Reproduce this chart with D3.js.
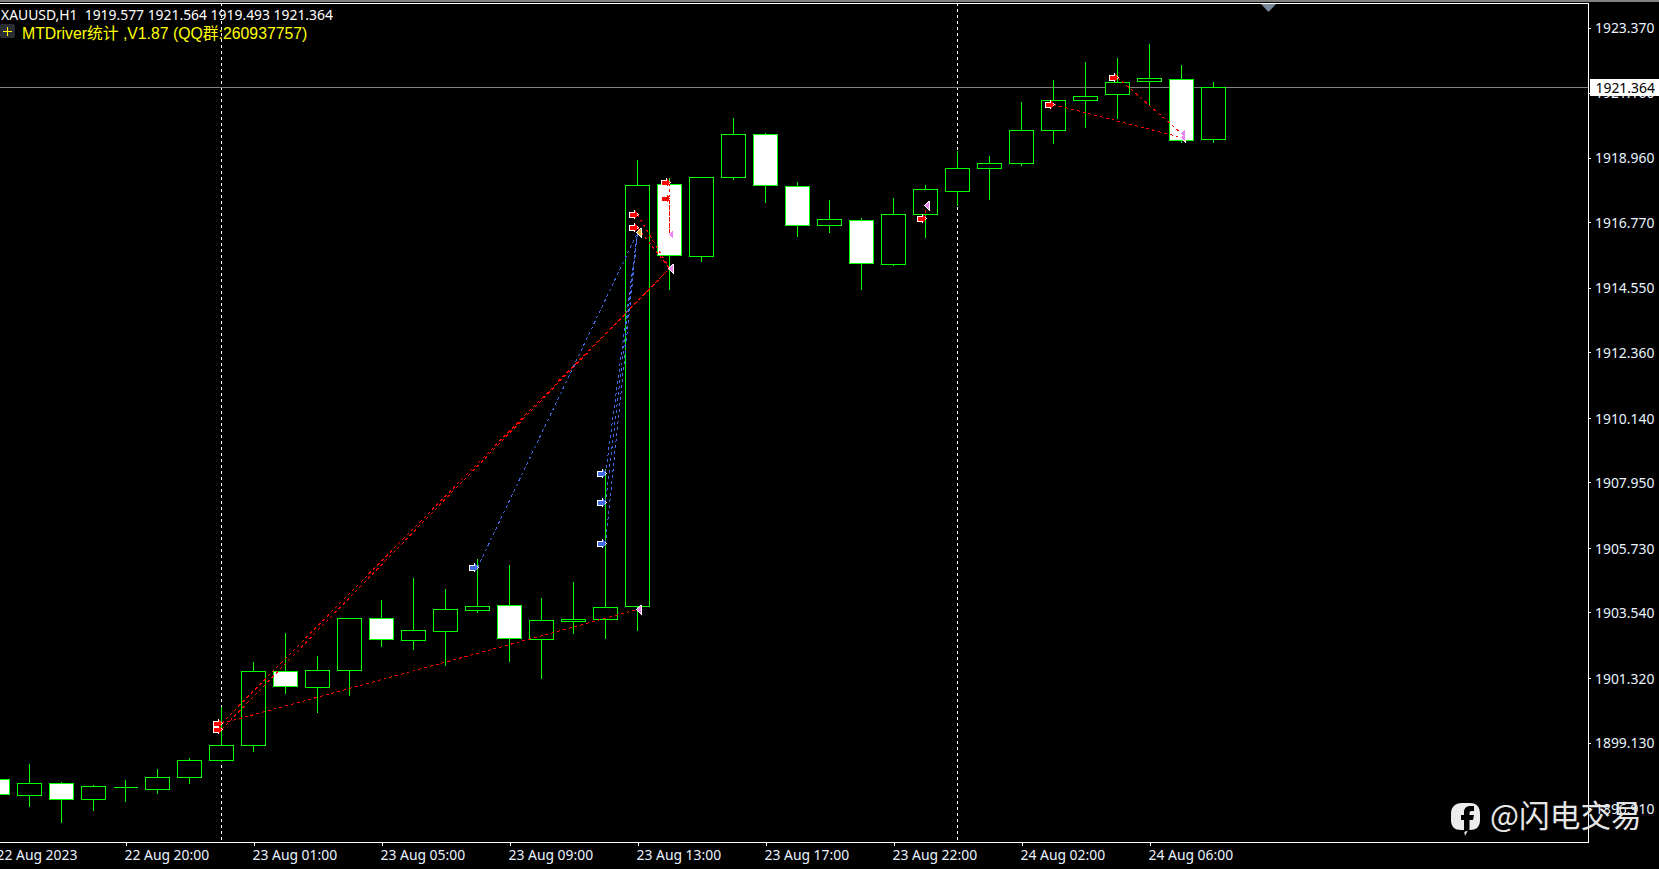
<!DOCTYPE html>
<html><head><meta charset="utf-8">
<script src="https://cdn.jsdelivr.net/npm/d3@7"></script>
<style>html,body{margin:0;padding:0;background:#000;overflow:hidden}svg{display:block}text{font-family:"Noto Sans",sans-serif}</style>
</head><body><svg id="c" width="1659" height="869"></svg>
<script>
const symbolLine = "XAUUSD,H1  1919.577 1921.564 1919.493 1921.364";
const indicatorLine = "MTDriver统计 ,V1.87 (QQ群:260937757)";
const watermark = "@闪电交易";
const highs = [1897.88,1898.42,1897.81,1897.71,1897.88,1898.25,1898.62,1900.35,1901.88,1902.86,1902.08,1903.37,1903.98,1904.73,1904.35,1905.37,1905.17,1904.05,1904.59,1908.42,1918.92,1918.29,1918.29,1920.33,1919.81,1918.15,1917.54,1916.93,1917.61,1918.05,1919.23,1919.06,1920.86,1921.61,1922.22,1922.35,1922.83,1922.12,1921.564];
const lows = [1897.37,1896.96,1896.42,1896.83,1897.13,1897.40,1897.74,1898.49,1898.83,1900.79,1900.15,1900.73,1902.39,1902.29,1901.74,1903.54,1901.88,1901.30,1902.83,1902.66,1902.93,1914.49,1915.44,1918.22,1917.44,1916.29,1916.42,1914.49,1915.30,1916.25,1917.34,1917.54,1918.69,1919.44,1920.01,1920.29,1920.73,1919.47,1919.493];
const opens = [1897.88,1897.34,1897.74,1897.20,1897.61,1897.54,1897.95,1898.52,1899.03,1901.54,1901.00,1901.57,1903.34,1902.59,1902.90,1903.61,1903.78,1902.62,1903.23,1903.30,1903.74,1918.05,1915.61,1918.29,1919.74,1917.98,1916.66,1916.83,1915.34,1917.03,1917.84,1918.59,1918.76,1919.88,1920.90,1921.10,1921.54,1921.61,1919.577];
const closes = [1897.37,1897.74,1897.20,1897.64,1897.61,1897.95,1898.52,1899.03,1901.54,1901.03,1901.57,1903.34,1902.62,1902.93,1903.64,1903.74,1902.66,1903.27,1903.30,1903.71,1918.03,1915.64,1918.29,1919.74,1918.03,1916.66,1916.86,1915.37,1917.03,1917.88,1918.59,1918.76,1919.88,1920.90,1921.06,1921.51,1921.64,1919.54,1921.364];
const priceTicks = [1923.370,1921.160,1918.960,1916.770,1914.550,1912.360,1910.140,1907.950,1905.730,1903.540,1901.320,1899.130,1896.910];
const timeTickBars = [0,4,8,12,16,20,24,28,32,36];
const timeTickLabels = ["22 Aug 2023","22 Aug 20:00","23 Aug 01:00","23 Aug 05:00","23 Aug 09:00","23 Aug 13:00","23 Aug 17:00","23 Aug 22:00","24 Aug 02:00","24 Aug 06:00"];
const lastPrice = 1921.364;
const separatorBars = [7,30];
const tradeFromBar = [7,7,7,15,19,19,19,20,20,21,21,29,33,35];
const tradeFromPrice = [1899.78,1899.57,1899.78,1905.06,1908.25,1907.27,1905.88,1917.06,1916.62,1918.12,1917.57,1916.90,1920.76,1921.68];
const tradeToBar = [21,21,20,20,20,20,20,21,21,21,21,29,37,37];
const tradeToPrice = [1915.20,1915.20,1903.64,1916.42,1916.42,1916.42,1916.42,1915.20,1915.20,1916.35,1916.35,1917.34,1919.64,1919.78];
const tradeKind = ["sell","sell","sell","buy","buy","buy","buy","sell","sell","sell","sell","sell","sell","sell"];

const W=1659,H=869,plotRight=1588,plotTop=3,plotBottom=842;
const svg=d3.select("#c");
const x=d3.scaleLinear().domain([0,1]).range([-3,29]);
const y=d3.scaleLinear().domain([1923.37,1899.13]).range([27.4,742.4]);
const rx=v=>Math.round(x(v))+.5, ry=v=>Math.round(y(v))+.5;
const bars=d3.range(opens.length);

svg.append("rect").attr("width",W).attr("height",H).attr("fill","#000");
svg.append("clipPath").attr("id","plot").append("rect").attr("x",0).attr("y",plotTop+1).attr("width",plotRight).attr("height",plotBottom-plotTop-1);
const plot=svg.append("g").attr("clip-path","url(#plot)").attr("shape-rendering","crispEdges");

// session separators
plot.selectAll("line.sep").data(separatorBars).join("line").attr("class","sep")
 .attr("x1",d=>rx(d)).attr("x2",d=>rx(d)).attr("y1",plotTop).attr("y2",plotBottom)
 .attr("stroke","#fff").attr("stroke-dasharray","3 3");
// bid line
plot.append("line").attr("x1",0).attr("x2",plotRight).attr("y1",ry(lastPrice)).attr("y2",ry(lastPrice)).attr("stroke","#808080");
// candles
const green="#00ff00";
plot.selectAll("line.wick").data(bars).join("line").attr("class","wick")
 .attr("x1",rx).attr("x2",rx).attr("y1",i=>ry(highs[i])).attr("y2",i=>ry(lows[i])).attr("stroke",green);
plot.selectAll("path.body").data(bars).join("path").attr("class","body")
 .attr("d",i=>{
   const t=ry(Math.max(opens[i],closes[i])), b=ry(Math.min(opens[i],closes[i])), l=rx(i)-12;
   return `M${l},${t}H${l+24}V${b}H${l}Z`;
 })
 .attr("fill",i=>closes[i]<opens[i]?"#fff":"#000").attr("stroke",green);

// trades
const trades=d3.range(tradeKind.length);
const lines=svg.append("g").attr("clip-path","url(#plot)").attr("shape-rendering","crispEdges");
lines.selectAll("line").data(trades).join("line")
 .attr("x1",i=>rx(tradeFromBar[i])).attr("y1",i=>ry(tradeFromPrice[i]))
 .attr("x2",i=>rx(tradeToBar[i])).attr("y2",i=>ry(tradeToPrice[i]))
 .attr("stroke",i=>tradeKind[i]==="buy"?"#4169e1":"#ff0000")
 .attr("stroke-width",1).attr("stroke-dasharray","3 3");
const arrows=svg.append("g").attr("shape-rendering","crispEdges");
const arrowOuter="M-7,-3H-2V-5L3,0L-2,5V3H-7Z";
const arrowInner="M-6,-2H-1.2V-4L2.4,0L-1.2,4V2H-6Z";
const triOuter="M-1,0L4,-5H5V5H4Z";
const triInner="M0,0L4,-3.6V3.6Z";
arrows.selectAll("path.inO").data(trades).join("path").attr("class","inO")
 .attr("d",arrowOuter).attr("transform",i=>`translate(${rx(tradeFromBar[i])-1.5},${ry(tradeFromPrice[i])})`)
 .attr("fill","#fff");
arrows.selectAll("path.inI").data(trades).join("path").attr("class","inI")
 .attr("d",arrowInner).attr("transform",i=>`translate(${rx(tradeFromBar[i])-1.5},${ry(tradeFromPrice[i])})`)
 .attr("fill",i=>tradeKind[i]==="buy"?"#4169e1":"#ff0000");
arrows.selectAll("path.outO").data(trades).join("path").attr("class","outO")
 .attr("d",triOuter).attr("transform",i=>`translate(${rx(tradeToBar[i])-.5},${ry(tradeToPrice[i])})`)
 .attr("fill","#fff");
arrows.selectAll("path.outI").data(trades).join("path").attr("class","outI")
 .attr("d",triInner).attr("transform",i=>`translate(${rx(tradeToBar[i])-.5},${ry(tradeToPrice[i])})`)
 .attr("fill",i=>tradeKind[i]==="buy"?"#daa520":"#ee82ee");

// frame
const frame=svg.append("g").attr("shape-rendering","crispEdges");
frame.append("rect").attr("x",0).attr("y",0).attr("width",W).attr("height",2).attr("fill","#808080");
frame.append("rect").attr("x",0).attr("y",3).attr("width",plotRight+1).attr("height",1).attr("fill","#fff");
frame.append("rect").attr("x",plotRight).attr("y",3).attr("width",1).attr("height",plotBottom-2).attr("fill","#fff");
frame.append("rect").attr("x",0).attr("y",plotBottom).attr("width",plotRight+1).attr("height",1).attr("fill","#fff");
svg.append("path").attr("d","M1261,4H1276L1268.5,12Z").attr("fill","#778899");

// axes
const fmt=d3.format(".3f");
const labelFont=13.9;
const yAxis=svg.append("g").attr("transform",`translate(${plotRight+1},0)`)
 .call(d3.axisRight(d3.scaleLinear().domain(y.domain()).range([27.5,742.5])).tickValues(priceTicks).tickFormat(fmt).tickSize(2).tickPadding(4));
yAxis.select(".domain").remove();
yAxis.selectAll("line").attr("stroke","#fff").attr("shape-rendering","crispEdges");
yAxis.selectAll("text").attr("fill","#eaf4ff").attr("font-size",labelFont).attr("font-family",'"Noto Sans",sans-serif').attr("dy",".38em");
const xAxis=svg.append("g").attr("transform",`translate(0,${plotBottom+1})`)
 .call(d3.axisBottom(d3.scaleLinear().domain(x.domain()).range([-2.5,29.5])).tickValues(timeTickBars).tickFormat((d,i)=>timeTickLabels[i]).tickSize(3).tickPadding(4));
xAxis.select(".domain").remove();
xAxis.selectAll("line").attr("stroke","#fff").attr("shape-rendering","crispEdges");
xAxis.selectAll("text").attr("fill","#eaf4ff").attr("font-size",labelFont).attr("font-family",'"Noto Sans",sans-serif').attr("text-anchor","start").attr("dx",-1.5).attr("y",5).attr("dy",".85em");

// last price label
svg.append("rect").attr("x",1590).attr("y",ry(lastPrice)-8.5).attr("width",69).attr("height",17).attr("fill","#fff");
svg.append("text").attr("x",1595.5).attr("y",ry(lastPrice)+5).attr("fill","#000").attr("font-size",labelFont).text(fmt(lastPrice));

// header
svg.append("text").attr("x",1).attr("y",20).attr("fill","#fff").attr("font-size",labelFont).style("white-space","pre").text(symbolLine);
svg.append("rect").attr("x",0).attr("y",24).attr("width",15).attr("height",14).attr("rx",2).attr("fill","#2a2d33");
svg.append("path").attr("d","M3,31.5H12M7.5,27V36").attr("stroke","#ffff00").attr("fill","none").attr("shape-rendering","crispEdges");
svg.append("text").attr("x",22).attr("y",38.5).attr("fill","#ffff00").attr("font-size",15.8).style("font-family",'"Liberation Sans","Noto Sans CJK SC",sans-serif').text(indicatorLine);

// watermark
const wm=svg.append("g");
wm.append("path").attr("fill","#ececec")
 .attr("d","M1462,803H1470C1477,803 1480,807 1480,814V820C1480,827 1476,830 1470,830H1468L1465,836L1464,830H1461C1455,830 1451,827 1451,820V814C1451,807 1455,803 1462,803Z");
wm.append("path").attr("fill","#000")
 .attr("d","M1464,832V820H1461V815H1464V812C1464,808 1467,806 1470,806H1474V811H1471.5C1470,811 1469.5,812 1469.5,813V815H1474L1473,820H1469.5V830Z");
svg.append("text").attr("x",1490).attr("y",827).attr("fill","#e6e6e6").attr("font-size",30.7).style("font-family",'"Noto Sans CJK SC",sans-serif').text(watermark);
</script></body></html>
